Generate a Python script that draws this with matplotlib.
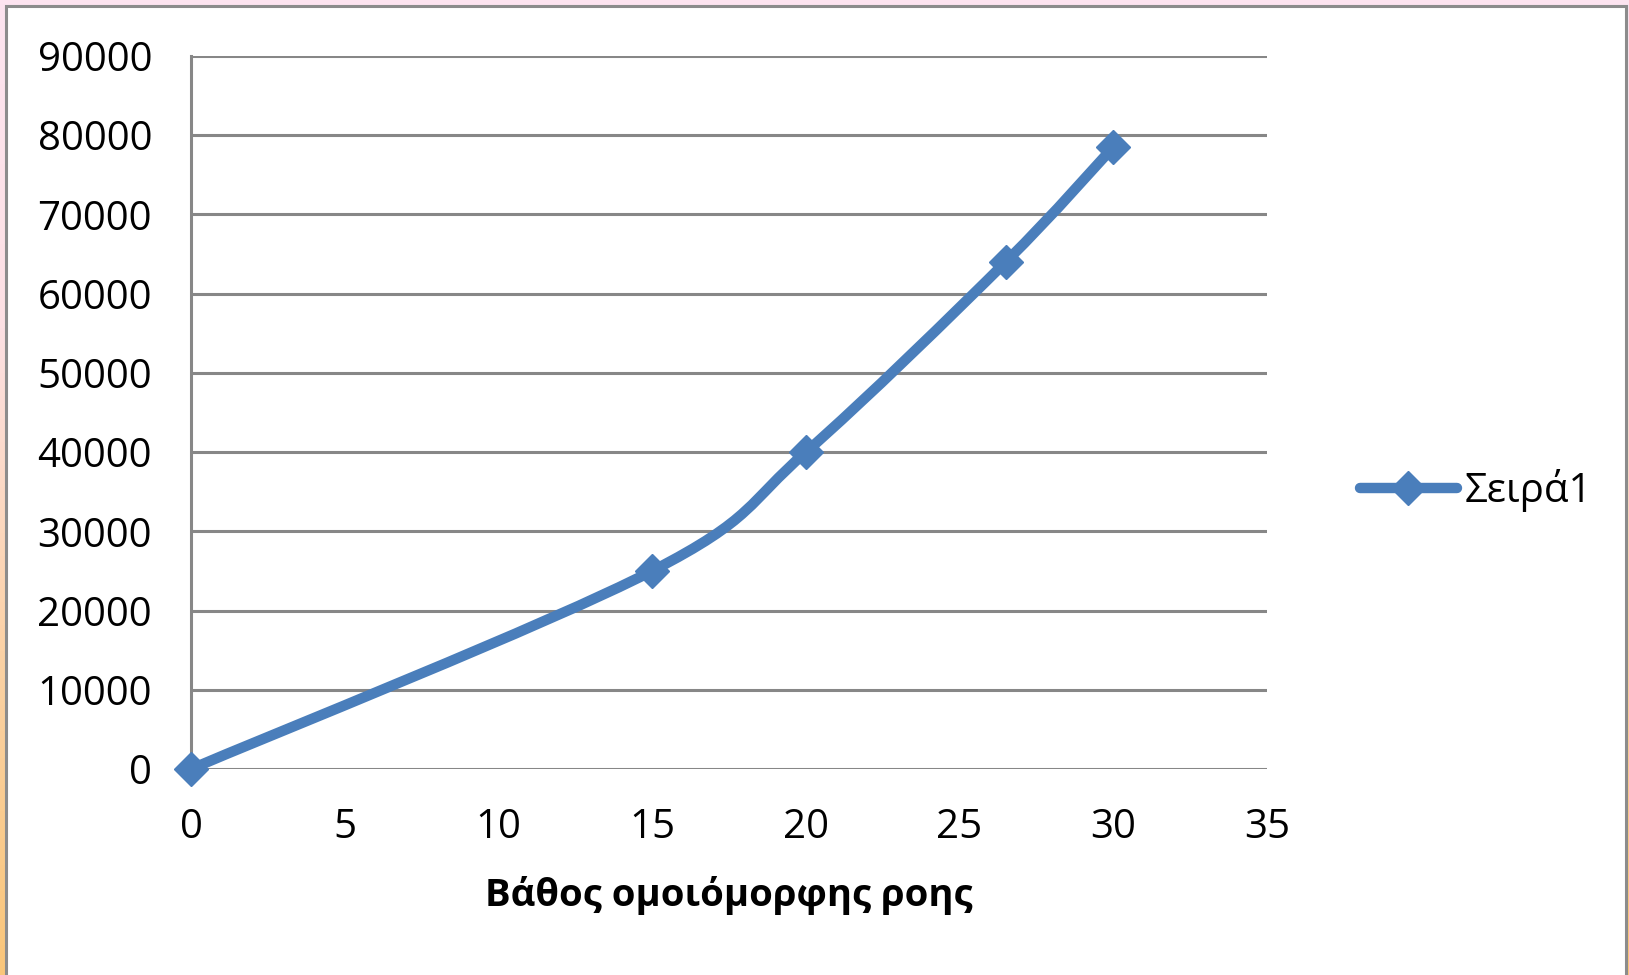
import numpy as np
import matplotlib
matplotlib.use('Agg')
import matplotlib.pyplot as plt
from matplotlib.path import Path
from matplotlib.patches import PathPatch, Rectangle
from matplotlib.lines import Line2D
from matplotlib.colors import LinearSegmentedColormap

plt.rcParams['font.family'] = ['Open Sans', 'DejaVu Sans']

# Datos de la serie
depth = [0, 15, 20, 26.5, 30]
values = [0, 25000, 40000, 64000, 78500]
x_ticks = [0, 5, 10, 15, 20, 25, 30, 35]
y_ticks = [0, 10000, 20000, 30000, 40000, 50000, 60000, 70000, 80000, 90000]
series_name = 'Σειρά1'
x_label = 'Βάθος ομοιόμορφης ροης'

blue = '#4A7EBB'
grid_gray = '#878787'

fig = plt.figure(figsize=(16.29, 9.75), dpi=100)

# Fondo con degradado (rosa arriba, naranja abajo)
bg = fig.add_axes([0, 0, 1, 1], zorder=-10)
cmap = LinearSegmentedColormap.from_list('bg', ['#FDE4F0', '#FCE0E4', '#FBD2A6', '#F9C67A'])
bg.imshow(np.linspace(0, 1, 256).reshape(-1, 1), aspect='auto', cmap=cmap,
          extent=[0, 1, 0, 1], origin='upper')
bg.set_xlim(0, 1)
bg.set_ylim(0, 1)
bg.add_patch(Rectangle((6 / 1629, -0.05), (1626 - 6) / 1629, 1.05 - 6 / 975,
                       facecolor='white', edgecolor='#8C8C8C', linewidth=2.2))
bg.axis('off')

ax = fig.add_axes([191 / 1629, 1 - 769 / 975, (1267 - 191) / 1629, (769 - 56) / 975])
ax.set_facecolor('none')
ax.set_xlim(0, 35)
ax.set_ylim(0, 90000)
ax.set_xticks(x_ticks)
ax.set_yticks(y_ticks)
ax.tick_params(length=0, labelsize=29, colors='black')
ax.tick_params(axis='x', pad=28)
ax.tick_params(axis='y', pad=28)
ax.grid(axis='y', color=grid_gray, linewidth=2.2)
ax.set_axisbelow(True)
for side in ['top', 'right', 'bottom']:
    ax.spines[side].set_visible(False)
ax.spines['left'].set_color(grid_gray)
ax.spines['left'].set_linewidth(2.2)

# Curva suavizada (Bezier tipo Excel)
pts = np.column_stack([depth, values]).astype(float)
ext = np.vstack([pts[0], pts, pts[-1]])
verts = [tuple(pts[0])]
codes = [Path.MOVETO]
for i in range(len(pts) - 1):
    p0, p1, p2, p3 = ext[i], ext[i + 1], ext[i + 2], ext[i + 3]
    c1 = p1 + (p2 - p0) / 6
    c2 = p2 - (p3 - p1) / 6
    verts += [tuple(c1), tuple(c2), tuple(p2)]
    codes += [Path.CURVE4] * 3
ax.add_patch(PathPatch(Path(verts, codes), facecolor='none', edgecolor=blue,
                       linewidth=7.5, capstyle='round', joinstyle='round',
                       clip_on=False, zorder=3))
ax.plot(depth, values, linestyle='none', marker='D', markersize=17, color=blue,
        clip_on=False, zorder=4)

handle = Line2D([], [], color=blue, linewidth=7.5, marker='D', markersize=17,
                solid_capstyle='round')
fig.legend([handle], [series_name], loc='center left',
           bbox_to_anchor=(1340 / 1629, 1 - 491 / 975), frameon=False,
           fontsize=29, handlelength=2.4, handletextpad=0.2, borderpad=0)

ax.set_xlabel(x_label, fontsize=27.5, fontweight='bold', labelpad=20)

fig.savefig('out.png', dpi=100)
